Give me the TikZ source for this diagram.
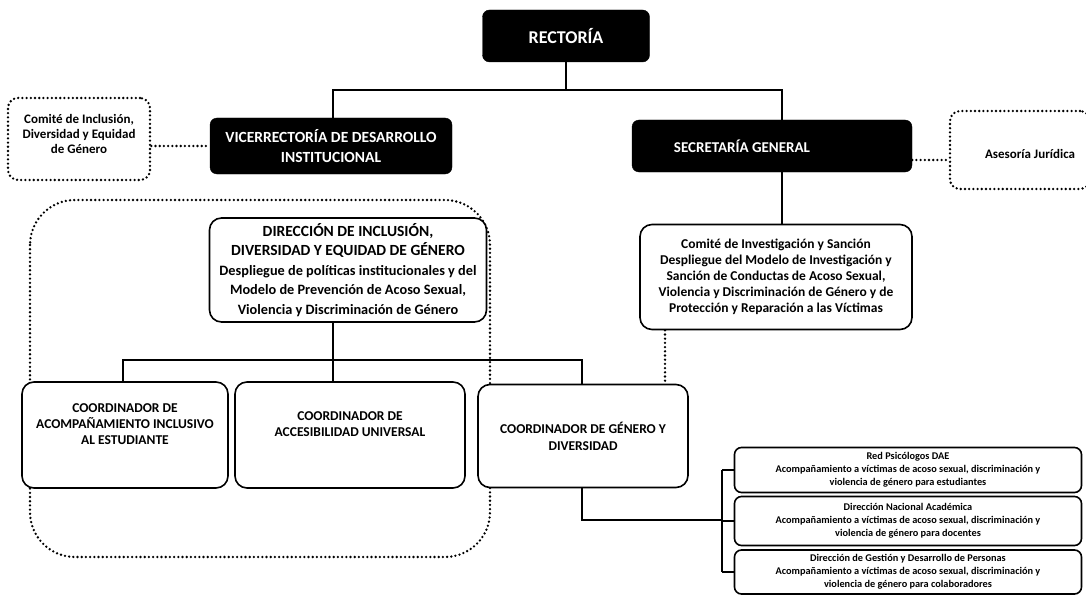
\documentclass[tikz,border=0pt]{standalone}
\usepackage{fontspec}
\setmainfont{Carlito}
\newcommand{\hfs}{\fontsize{15.5}{19.5}\selectfont}
\newcommand{\bfs}{\fontsize{14.3}{19.5}\selectfont}
\begin{document}
\begin{tikzpicture}[x=1pt,y=-1pt,
  blk/.style={draw=black, fill=black, text=white, rounded corners=7pt, align=center, inner sep=0pt, font=\bfseries},
  wbox/.style={draw, line width=1.6pt, rounded corners=12pt, fill=white, align=center, inner sep=0pt, font=\bfseries},
  rbox/.style={draw, line width=1.6pt, rounded corners=7pt, fill=white, align=center, inner sep=0pt, font=\bfseries\fontsize{10.3}{13}\selectfont},
  dbox/.style={draw, line width=2.6pt, dash pattern=on 0pt off 4.2pt, line cap=round, rounded corners=10pt, align=center, inner sep=0pt, font=\bfseries},
  conn/.style={line width=1.6pt},
  dconn/.style={line width=2.6pt, dash pattern=on 0pt off 4.2pt, line cap=round}]
\useasboundingbox (0,0) rectangle (1086,599);

% big dotted group
\draw[dconn, rounded corners=45pt] (30,200) rectangle (490,557);

\node[blk, minimum width=167, minimum height=52, font=\bfseries\fontsize{18}{22}\selectfont] (rect) at (566,36) {RECTORÍA};
\node[blk, minimum width=242, minimum height=56, font=\bfseries\fontsize{15.5}{20}\selectfont] (vice) at (331,146) {VICERRECTORÍA DE DESARROLLO\\INSTITUCIONAL};
\node[blk, minimum width=280, minimum height=52, font=\bfseries\fontsize{15}{18}\selectfont] (sec) at (772,146) {SECRETARÍA GENERAL\hspace*{60pt}};

\node[dbox, minimum width=142, minimum height=82, font=\bfseries\fontsize{13}{15}\selectfont] (cinc) at (79,139) {Comité de Inclusión,\\Diversidad y Equidad\\de Género\\[-4pt]~};
\node[dbox, minimum width=140, minimum height=78, font=\bfseries\fontsize{13}{15}\selectfont] (ases) at (1020,150) {\rule{0pt}{17pt}\hspace*{20pt}Asesoría Jurídica};

\node[wbox, minimum width=277, minimum height=104, font=\bfseries\bfs] (dir) at (348,270) {\hfs DIRECCIÓN DE INCLUSIÓN,\\\hfs DIVERSIDAD Y EQUIDAD DE GÉNERO\\\bfs Despliegue de políticas institucionales y del\\\bfs Modelo de Prevención de Acoso Sexual,\\\bfs Violencia y Discriminación de Género};

\node[wbox, minimum width=272, minimum height=105, font=\bfseries\fontsize{13.5}{16}\selectfont] (cinv) at (776,277) {Comité de Investigación y Sanción\\Despliegue del Modelo de Investigación y\\Sanción de Conductas de Acoso Sexual,\\Violencia y Discriminación de Género y de\\Protección y Reparación a las Víctimas};

\node[wbox, minimum width=206, minimum height=106, font=\bfseries\fontsize{13.5}{16}\selectfont] (b1) at (125,435) {COORDINADOR DE\\ACOMPAÑAMIENTO INCLUSIVO\\AL ESTUDIANTE\\[6pt]~};
\node[wbox, minimum width=230, minimum height=106, font=\bfseries\fontsize{13.5}{16}\selectfont] (b2) at (350,435) {COORDINADOR DE\\ACCESIBILIDAD UNIVERSAL\\[6pt]~};
\node[wbox, minimum width=210, minimum height=103, font=\bfseries\fontsize{13.5}{17}\selectfont] (b3) at (583,436) {COORDINADOR DE GÉNERO Y\\DIVERSIDAD};

\node[rbox, minimum width=347, minimum height=45] (r1) at (908,470) {Red Psicólogos DAE\\Acompañamiento a víctimas de acoso sexual, discriminación y\\violencia de género para estudiantes};
\node[rbox, minimum width=347, minimum height=49] (r2) at (908,521) {Dirección Nacional Académica\\Acompañamiento a víctimas de acoso sexual, discriminación y\\violencia de género para docentes};
\node[rbox, minimum width=347, minimum height=44] (r3) at (908,572) {Dirección de Gestión y Desarrollo de Personas\\Acompañamiento a víctimas de acoso sexual, discriminación y\\violencia de género para colaboradores};

% top bus
\coordinate (busL) at (333,90);
\coordinate (busR) at (782,90);
\draw[conn] (rect.south) -- (rect.south |- busL);
\draw[conn] (vice.north -| busL) -- (busL) -- (busR) -- (sec.north -| busR);
\draw[conn] (sec.south -| busR) -- (cinv.north -| busR);

% dotted side links
\coordinate (ay) at (0,160);
\draw[dconn] (cinc.east |- vice.west) -- (vice.west);
\draw[dconn] (sec.east |- ay) -- (ases.west |- ay);

% direction bus
\coordinate (b2L) at (123,360);
\coordinate (b2R) at (582,360);
\draw[conn] (dir.south -| busL) -- (b2.north -| busL);
\draw[conn] (b1.north -| b2L) -- (b2L) -- (b2R) -- (b3.north -| b2R);

% dotted from comité de investigación
\coordinate (dv) at (665,0);
\draw[dconn] (cinv.south -| dv) -- (b3.north -| dv);

% right bus
\coordinate (k1) at (582,520);
\coordinate (k2) at (722,520);
\draw[conn] (b3.south -| k1) -- (k1) -- (k2);
\draw[conn] (r1.west -| k2) -- (r3.west -| k2);
\draw[conn] (r1.west -| k2) -- (r1.west);
\draw[conn] (r2.west -| k2) -- (r2.west);
\draw[conn] (r3.west -| k2) -- (r3.west);
\end{tikzpicture}
\end{document}
